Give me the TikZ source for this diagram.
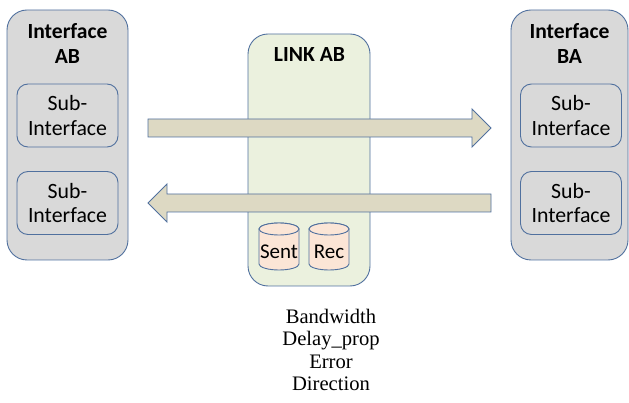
\documentclass[tikz,border=0pt]{standalone}
\usepackage{fontspec}
\setmainfont{Carlito}
\newfontfamily\timesf{Liberation Serif}
\definecolor{edge}{RGB}{80,112,158}
\definecolor{grayfill}{RGB}{217,217,217}
\definecolor{linkfill}{RGB}{235,241,222}
\definecolor{arrowfill}{RGB}{221,217,195}
\definecolor{cylfill}{RGB}{251,229,214}
\tikzset{
  outerbox/.style={draw=edge, fill=grayfill, line width=0.9pt, rounded corners=20pt, inner sep=0pt},
  subbox/.style={draw=edge, fill=grayfill, line width=0.9pt, rounded corners=11pt, inner sep=0pt, minimum width=101, minimum height=63, align=center, font=\fontsize{21.8}{24.5}\selectfont},
  linkbox/.style={draw=edge, fill=linkfill, line width=0.9pt, rounded corners=20pt, inner sep=0pt},
  titletext/.style={align=center, font=\fontsize{21.6}{25}\selectfont\bfseries, inner sep=0pt},
  blockarrow/.style={draw=edge, fill=arrowfill, line width=0.9pt, line join=miter},
  cyl/.style={draw=edge, fill=cylfill, line width=0.9pt},
  cyltext/.style={font=\fontsize{21}{24.5}\selectfont, inner sep=0pt},
  paramtext/.style={align=center, font=\timesf\fontsize{20.6}{22.4}\selectfont, inner sep=0pt}
}
\begin{document}
\begin{tikzpicture}[x=1pt, y=-1pt]
\useasboundingbox (0,0) rectangle (629,403);
% interfaces
\node[outerbox, minimum width=121, minimum height=250] (ifab) at (67.5,135) {};
\node[titletext] (tab) at (67.5,43) {Interface\\AB};
\node[subbox] (sab1) at (67.5,115.5) {Sub-\\Interface};
\node[subbox] (sab2) at (67.5,203) {Sub-\\Interface};
\node[outerbox, minimum width=117, minimum height=250] (ifba) at (569.5,135) {};
\node[titletext] (tba) at (569.5,43) {Interface\\BA};
\node[subbox] (sba1) at (571,115.5) {Sub-\\Interface};
\node[subbox] (sba2) at (571,203) {Sub-\\Interface};
% link
\node[linkbox, minimum width=122, minimum height=252] (link) at (309,160) {};
\node[titletext] (tlink) at (309.5,55) {LINK AB};
% block arrows
\draw[blockarrow] (148,119) -- (472,119) -- (472,109) -- (491,128) -- (472,147) -- (472,137) -- (148,137) -- cycle;
\draw[blockarrow] (491,194) -- (167,194) -- (167,184) -- (148,203) -- (167,222) -- (167,212) -- (491,212) -- cycle;
% cylinders
\draw[cyl] (259,229) -- (259,264) arc[start angle=180, end angle=360, x radius=20pt, y radius=6pt] -- (299,229) arc[start angle=0, end angle=180, x radius=20pt, y radius=6pt] -- cycle;
\draw[cyl] (279,229) ellipse[x radius=20pt, y radius=6pt];
\node[cyltext] (sent) at (279,252) {Sent};
\draw[cyl] (309,229) -- (309,264) arc[start angle=180, end angle=360, x radius=20pt, y radius=6pt] -- (349,229) arc[start angle=0, end angle=180, x radius=20pt, y radius=6pt] -- cycle;
\draw[cyl] (329,229) ellipse[x radius=20pt, y radius=6pt];
\node[cyltext] (rec) at (329,252) {Rec};
% parameters
\node[paramtext] (params) at (331,350) {Bandwidth\\Delay\_prop\\Error\\Direction};
\end{tikzpicture}
\end{document}
